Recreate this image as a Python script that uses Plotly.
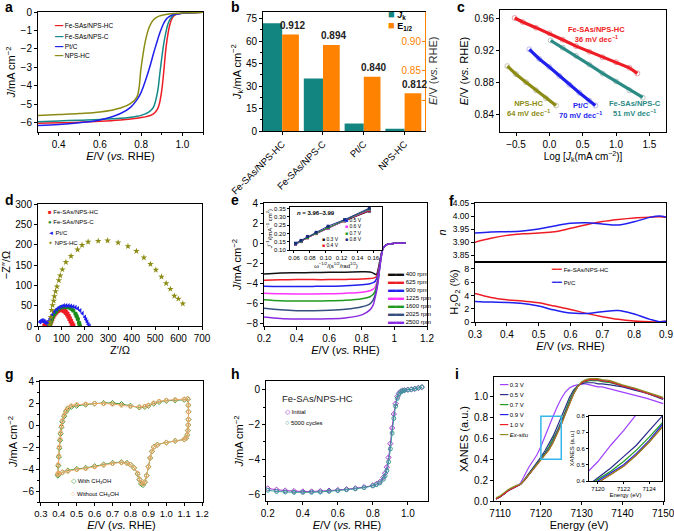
import plotly.graph_objects as go

W, H = 674, 531
FONT = "Liberation Sans, Arial, Helvetica, sans-serif"

def dx(a, b):
    return [a / W, b / W]

def dy(t, b):
    return [1 - b / H, 1 - t / H]

# ---------------- data ----------------
# a: LSV curves
a_E = [0.30, 0.40, 0.50, 0.60, 0.70, 0.75, 0.78, 0.80, 0.82, 0.84, 0.86, 0.88, 0.89, 0.90, 0.91, 0.92, 0.93, 0.94, 0.95, 0.96, 0.98, 1.00, 1.05, 1.10]
a_names = ["Fe-SAs/NPS-HC", "Fe-SAs/NPS-C", "Pt/C", "NPS-HC"]
a_colors = ["#ee1c24", "#13898a", "#1f1fee", "#8c8c14"]
a_J = [
    [-6.02, -6.0, -5.97, -5.92, -5.85, -5.8, -5.76, -5.72, -5.68, -5.62, -5.52, -5.25, -4.9, -4.25, -3.2, -2.0, -1.2, -0.65, -0.35, -0.2, -0.1, -0.07, -0.04, -0.02],
    [-5.95, -5.9, -5.86, -5.82, -5.76, -5.7, -5.65, -5.6, -5.52, -5.4, -5.15, -4.3, -3.4, -2.5, -1.7, -1.1, -0.65, -0.4, -0.25, -0.15, -0.09, -0.07, -0.04, -0.02],
    [-6.15, -6.1, -6.0, -5.85, -5.5, -5.15, -4.75, -4.35, -3.75, -3.05, -2.25, -1.5, -1.15, -0.85, -0.6, -0.42, -0.3, -0.22, -0.16, -0.13, -0.1, -0.07, -0.04, -0.02],
    [-5.6, -5.55, -5.5, -5.42, -5.2, -4.95, -4.6, -3.0, -1.6, -0.8, -0.42, -0.26, -0.21, -0.18, -0.15, -0.13, -0.12, -0.1, -0.09, -0.08, -0.07, -0.06, -0.04, -0.02],
]

# b: kinetic current & half-wave potential
b_cats = ["Fe-SAs/NPS-HC", "Fe-SAs/NPS-C", "Pt/C", "NPS-HC"]
b_Jk = [72, 35, 5, 1.5]
b_E12 = [0.912, 0.894, 0.840, 0.812]

# c: Tafel
c_names = ["Fe-SAs/NPS-HC", "Fe-SAs/NPS-C", "Pt/C", "NPS-HC"]
c_slopes = ["36 mV dec<sup>−1</sup>", "51 mV dec<sup>−1</sup>", "70 mV dec<sup>−1</sup>", "64 mV dec<sup>−1</sup>"]
c_colors = ["#ee1c24", "#2a8a84", "#1f1fee", "#8c8c14"]
c_marker_colors = ["#e8a0a8", "#b8c4c4", "#b8b8e8", "#c4c4b0"]
c_x = [
    [-0.52, -0.4, -0.2, 0.0, 0.2, 0.4, 0.6, 0.8, 1.0, 1.2, 1.32],
    [0.02, 0.2, 0.4, 0.6, 0.8, 1.0, 1.2, 1.40],
    [-0.30, -0.15, 0.0, 0.15, 0.3, 0.45, 0.6, 0.69],
    [-0.63, -0.5, -0.35, -0.2, -0.05, 0.1],
]
c_y = [
    [0.960, 0.955, 0.948, 0.941, 0.933, 0.925, 0.918, 0.911, 0.905, 0.898, 0.891],
    [0.932, 0.923, 0.913, 0.902, 0.891, 0.881, 0.870, 0.861],
    [0.921, 0.909, 0.899, 0.888, 0.877, 0.867, 0.857, 0.851],
    [0.900, 0.890, 0.880, 0.870, 0.860, 0.851],
]
c_lab_x = [0.71, 1.285, 0.46, -0.32]
c_lab_y = [0.940, 0.847, 0.8445, 0.847]

# d: Nyquist
d_names = ["Fe-SAs/NPS-HC", "Fe-SAs/NPS-C", "Pt/C", "NPS-HC"]
d_colors = ["#ee1c24", "#1a8c1a", "#1f1fee", "#8c8c14"]
d_symbols = ["square", "circle", "triangle-left", "star"]
d_keys = ["■", "●", "◄", "✦"]
d_x = [
    [28, 32, 36, 40, 44, 48, 52, 56, 60, 65, 70, 75, 80, 85, 90, 95, 100, 105, 110, 115, 120, 125, 130, 135, 140, 145, 150],
    [48, 52, 56, 60, 65, 70, 75, 80, 90, 100, 110, 120, 130, 140, 150, 160, 165, 170, 175, 178],
    [8, 12, 16, 20, 24, 28, 32, 36, 40, 44, 48, 52, 56, 60, 70, 80, 90, 100, 110, 120, 130, 140, 150, 160, 170, 180, 190, 200, 205, 210, 215, 220],
    [50, 52, 55, 58, 62, 67, 70, 75, 81, 89, 95, 104, 119, 141, 169, 188, 214, 257, 297, 342, 384, 420, 452, 480, 503, 527, 547, 565, 582, 599, 618],
]
d_y = [
    [0, 4, 7, 7, 5, 4, 7, 12, 18, 24, 29, 33, 36, 38, 39.5, 40, 40, 39.5, 38, 36, 33, 29, 24, 18, 12, 6, 1],
    [0, 5, 12, 18, 25, 30, 34, 38, 43, 46, 47, 47, 46, 43, 38, 30, 24, 17, 8, 2],
    [10, 12, 13, 13, 12, 11, 9, 7, 6, 8, 13, 18, 23, 27, 35, 41, 45, 48, 50, 50, 50, 49, 48, 46, 43, 38, 31, 22, 16, 10, 4, 0],
    [2, 10, 22, 39, 51, 62, 73, 85, 97, 112, 124, 139, 157, 172, 188, 199, 207, 209, 210, 205, 196, 184, 168, 152, 138, 121, 105, 91, 74, 67, 55],
]

# e: RDE curves
e_E = [0.2, 0.3, 0.4, 0.5, 0.6, 0.7, 0.8, 0.85, 0.87, 0.88, 0.89, 0.9, 0.91, 0.92, 0.93, 0.95, 0.97, 1.0, 1.03, 1.07]
e_names = ["400 rpm", "625 rpm", "900 rpm", "1225 rpm", "1600 rpm", "2025 rpm", "2500 rpm"]
e_colors = ["#111111", "#ee1c24", "#1f1fee", "#ff33ff", "#1e9a1e", "#34507f", "#8a2be2"]
e_J = [
    [-3.05, -2.95, -2.92, -2.9, -2.88, -2.86, -2.83, -2.85, -2.95, -3.05, -3.1, -2.6, -1.8, -1.0, -0.5, -0.15, -0.05, 0.0, 0.02, 0.05],
    [-3.65, -3.62, -3.6, -3.6, -3.6, -3.58, -3.55, -3.5, -3.45, -3.4, -3.3, -2.8, -2.0, -1.1, -0.5, -0.15, -0.05, 0.0, 0.02, 0.05],
    [-4.25, -4.28, -4.28, -4.27, -4.25, -4.2, -4.1, -4.0, -3.9, -3.8, -3.55, -3.0, -2.1, -1.15, -0.5, -0.15, -0.05, 0.0, 0.02, 0.05],
    [-4.95, -5.0, -5.02, -5.02, -5.0, -4.95, -4.85, -4.7, -4.55, -4.4, -4.0, -3.3, -2.2, -1.2, -0.5, -0.15, -0.05, 0.0, 0.02, 0.05],
    [-5.6, -5.7, -5.72, -5.72, -5.7, -5.65, -5.5, -5.3, -5.05, -4.8, -4.3, -3.5, -2.3, -1.2, -0.5, -0.15, -0.05, 0.0, 0.02, 0.05],
    [-6.45, -6.6, -6.68, -6.68, -6.65, -6.55, -6.3, -6.0, -5.6, -5.2, -4.6, -3.7, -2.4, -1.25, -0.5, -0.15, -0.05, 0.0, 0.02, 0.05],
    [-7.3, -7.45, -7.5, -7.5, -7.48, -7.4, -7.1, -6.6, -6.1, -5.5, -4.8, -3.8, -2.5, -1.3, -0.55, -0.15, -0.05, 0.0, 0.02, 0.05],
]
# e inset: Koutecky-Levich
kl_w = [0.062, 0.069, 0.077, 0.088, 0.103, 0.124, 0.155]
kl_names = ["0.3 V", "0.4 V", "0.5 V", "0.6 V", "0.7 V", "0.8 V"]
kl_colors = ["#111111", "#ee1c24", "#1f1fee", "#ff33ff", "#1e9a1e", "#1a2a80"]
kl_y = [
    [0.137, 0.152, 0.175, 0.200, 0.235, 0.276, 0.335],
    [0.136, 0.151, 0.174, 0.199, 0.233, 0.277, 0.338],
    [0.136, 0.151, 0.175, 0.200, 0.234, 0.278, 0.343],
    [0.137, 0.152, 0.175, 0.200, 0.235, 0.279, 0.345],
    [0.138, 0.153, 0.176, 0.201, 0.236, 0.280, 0.347],
    [0.141, 0.158, 0.182, 0.207, 0.244, 0.284, 0.353],
]

# f: electron transfer number & H2O2 yield
f_E = [0.30, 0.35, 0.40, 0.45, 0.50, 0.55, 0.60, 0.65, 0.70, 0.75, 0.80, 0.85, 0.88, 0.90]
f_names = ["Fe-SAs/NPS-HC", "Pt/C"]
f_colors = ["#ee1c24", "#1f1fee"]
f_n = [
    [3.900, 3.915, 3.926, 3.932, 3.935, 3.940, 3.953, 3.967, 3.979, 3.987, 3.993, 3.996, 3.997, 3.995],
    [3.935, 3.939, 3.940, 3.943, 3.950, 3.962, 3.972, 3.974, 3.970, 3.966, 3.978, 3.995, 4.000, 3.996],
]
f_h2o2 = [
    [4.3, 3.7, 3.35, 3.15, 2.9, 2.4, 1.9, 1.3, 0.8, 0.4, 0.15, 0.02, 0.05, 0.1],
    [3.1, 3.0, 2.95, 2.8, 2.4, 1.8, 1.35, 1.3, 1.55, 1.72, 1.2, 0.4, 0.05, 0.1],
]

# g: CV with / without methanol
g_names = ["With CH<sub>3</sub>OH", "Without CH<sub>3</sub>OH"]
g_colors = ["#3a9a3a", "#f0a868"]
g_E = [0.395, 0.397, 0.400, 0.403, 0.407, 0.410, 0.415, 0.420, 0.430, 0.440, 0.450, 0.470, 0.500, 0.550, 0.600, 0.650, 0.700, 0.750, 0.800, 0.850, 0.880, 0.900, 0.930, 0.960, 1.000, 1.050, 1.100, 1.120,
       1.123, 1.124, 1.124, 1.123, 1.121, 1.117, 1.110,
       1.100, 1.050, 1.000, 0.950, 0.930, 0.920, 0.910, 0.900, 0.890, 0.880, 0.870, 0.860, 0.850, 0.840, 0.820, 0.800, 0.780, 0.750, 0.700, 0.650, 0.600, 0.550, 0.500, 0.450, 0.420, 0.400, 0.395]
g_J = [
    [-4.5, -3.7, -2.9, -2.1, -1.4, -0.8, -0.2, 0.3, 0.8, 1.2, 1.45, 1.65, 1.75, 1.85, 1.95, 2.0, 2.0, 1.9, 1.75, 1.6, 1.65, 1.75, 1.95, 2.1, 2.2, 2.25, 2.3, 2.35,
     1.8, 1.2, 0.5, 0.0, -0.5, -0.9, -1.2,
     -1.3, -1.45, -1.6, -1.8, -2.0, -2.4, -3.0, -3.8, -4.6, -5.2, -5.45, -5.35, -4.95, -4.45, -3.9, -3.6, -3.45, -3.38, -3.45, -3.6, -3.75, -3.9, -4.0, -4.15, -4.3, -4.45, -4.6],
    [-4.4, -3.6, -2.8, -2.0, -1.3, -0.7, -0.1, 0.4, 0.9, 1.3, 1.55, 1.75, 1.85, 1.9, 1.95, 1.95, 1.9, 1.8, 1.7, 1.65, 1.7, 1.8, 2.0, 2.15, 2.25, 2.3, 2.35, 2.4,
     1.8, 1.2, 0.5, 0.0, -0.5, -0.9, -1.2,
     -1.3, -1.45, -1.6, -1.8, -2.0, -2.4, -3.0, -3.8, -4.6, -5.15, -5.35, -5.25, -4.9, -4.4, -3.9, -3.6, -3.48, -3.42, -3.5, -3.65, -3.8, -3.95, -4.05, -4.2, -4.3, -4.4, -4.5],
]

# h: durability
h_E = [0.2, 0.25, 0.3, 0.35, 0.4, 0.45, 0.5, 0.55, 0.6, 0.65, 0.7, 0.75, 0.8, 0.82, 0.84, 0.86, 0.87, 0.88, 0.89, 0.9, 0.91, 0.92, 0.93, 0.94, 0.95, 0.96, 0.97, 0.98, 1.0, 1.02, 1.04, 1.06, 1.08]
h_names = ["Initial", "5000 cycles"]
h_colors = ["#9933cc", "#3a9a96"]
h_J = [
    [-5.68, -5.75, -5.8, -5.83, -5.85, -5.85, -5.83, -5.8, -5.77, -5.72, -5.67, -5.6, -5.5, -5.42, -5.3, -5.05, -4.8, -4.45, -3.9, -3.1, -2.2, -1.4, -0.8, -0.4, -0.2, -0.1, -0.05, -0.03, 0.0, 0.02, 0.05, 0.1, 0.15],
    [-5.78, -5.85, -5.88, -5.9, -5.9, -5.9, -5.88, -5.84, -5.8, -5.75, -5.7, -5.63, -5.53, -5.46, -5.36, -5.15, -4.95, -4.65, -4.15, -3.4, -2.5, -1.65, -0.95, -0.5, -0.25, -0.12, -0.06, -0.04, -0.01, 0.02, 0.05, 0.1, 0.15],
]

# i: in situ XANES
i_En = [7109, 7110, 7111, 7112, 7113, 7114, 7115, 7116, 7117, 7118, 7119, 7120, 7121, 7122, 7123, 7124, 7125, 7126, 7127, 7128, 7129, 7130, 7131, 7132, 7133, 7134, 7135, 7137, 7140, 7143, 7146, 7150]
i_names = ["0.3 V", "0.5 V", "0.7 V", "0.9 V", "1.0 V", "<i>Ex-situ</i>"]
i_colors = ["#a040ff", "#2a2a8a", "#1e9a1e", "#1f1fee", "#ee1c24", "#8c8c20"]
i_ticks = [7110, 7120, 7130, 7140, 7150]
i_mu = [
    [0.02, 0.04, 0.07, 0.10, 0.12, 0.14, 0.17, 0.25, 0.32, 0.38, 0.44, 0.52, 0.62, 0.71, 0.81, 0.90, 0.98, 1.04, 1.08, 1.10, 1.11, 1.12, 1.12, 1.11, 1.10, 1.09, 1.09, 1.07, 1.04, 1.01, 0.98, 0.93],
    [0.02, 0.04, 0.07, 0.10, 0.12, 0.14, 0.16, 0.21, 0.26, 0.31, 0.36, 0.42, 0.48, 0.55, 0.62, 0.71, 0.80, 0.90, 0.99, 1.06, 1.10, 1.12, 1.13, 1.13, 1.13, 1.12, 1.12, 1.11, 1.09, 1.06, 1.03, 0.97],
    [0.02, 0.04, 0.07, 0.10, 0.12, 0.14, 0.16, 0.20, 0.25, 0.30, 0.36, 0.41, 0.46, 0.52, 0.59, 0.67, 0.76, 0.86, 0.96, 1.04, 1.10, 1.13, 1.14, 1.15, 1.15, 1.15, 1.14, 1.13, 1.10, 1.07, 1.03, 0.98],
    [0.02, 0.04, 0.07, 0.10, 0.12, 0.14, 0.16, 0.20, 0.25, 0.30, 0.35, 0.395, 0.45, 0.50, 0.57, 0.65, 0.745, 0.84, 0.94, 1.03, 1.09, 1.13, 1.15, 1.16, 1.16, 1.16, 1.15, 1.14, 1.10, 1.07, 1.03, 0.98],
    [0.02, 0.04, 0.07, 0.10, 0.12, 0.14, 0.16, 0.20, 0.25, 0.30, 0.35, 0.39, 0.44, 0.49, 0.56, 0.64, 0.73, 0.83, 0.93, 1.02, 1.09, 1.13, 1.15, 1.16, 1.16, 1.16, 1.15, 1.14, 1.10, 1.07, 1.03, 0.98],
    [0.03, 0.05, 0.08, 0.11, 0.13, 0.15, 0.16, 0.20, 0.25, 0.30, 0.35, 0.39, 0.44, 0.49, 0.56, 0.64, 0.73, 0.83, 0.93, 1.02, 1.09, 1.14, 1.16, 1.17, 1.17, 1.17, 1.16, 1.15, 1.11, 1.08, 1.04, 0.99],
]

# ---------------- figure ----------------
fig = go.Figure()
ann = []

def base_axis(domain, rng, anchor, fs=10, **kw):
    d = dict(domain=domain, range=rng, anchor=anchor, showline=True, linecolor="black", linewidth=1,
             mirror=True, ticks="outside", ticklen=3, tickcolor="black", tickwidth=1, tickangle=0,
             automargin=False, ticklabeloverflow="allow",
             tickfont=dict(size=fs, color="black", family=FONT), showgrid=False, zeroline=False)
    d.update(kw)
    return d

def ttl(text, size=11, standoff=2, color="black"):
    return dict(text=text, font=dict(size=size, color=color, family=FONT), standoff=standoff)

def legend_block(x0, y0, dyy, keys, names, colors, keysize=7, fs=6.5, gap=" "):
    for k, (key, n, c) in enumerate(zip(keys, names, colors)):
        ann.append(dict(xref="paper", yref="paper", x=x0 / W, y=1 - (y0 + k * dyy) / H,
                        xanchor="left", yanchor="middle", showarrow=False,
                        text=f'<span style="color:{c};font-size:{keysize}px">{key}</span>{gap}{n}',
                        font=dict(size=fs, color="black", family=FONT)))

EV = "<i>E</i>/V (<i>vs.</i> RHE)"
JT = "<i>J</i>/mA cm<sup>−2</sup>"

lay = {}

# ---- a ----
for n, c, J in zip(a_names, a_colors, a_J):
    fig.add_trace(go.Scatter(x=a_E, y=J, mode="lines", line=dict(color=c, width=1.5, shape="spline"),
                             xaxis="x", yaxis="y", showlegend=False, name=n))
lay["xaxis"] = base_axis(dx(38, 203), [0.3, 1.1], "y", tickvals=[0.4, 0.6, 0.8, 1.0], ticktext=["0.4", "0.6", "0.8", "1.0"],
                         minor=dict(ticks="outside", ticklen=2, dtick=0.1, tickcolor="black"),
                         title=ttl(EV, 11, 1))
lay["yaxis"] = base_axis(dy(12, 132), [-6.5, 0], "x", dtick=1, title=ttl(JT, 11, 2))
legend_block(52, 26, 10, ["━━"] * 4, a_names, a_colors, keysize=7)

# ---- b ----
xi = list(range(len(b_cats)))
fig.add_trace(go.Bar(x=[v - 0.235 for v in xi], y=b_Jk, width=0.47, marker=dict(color="#138580", line=dict(width=0)),
                     xaxis="x2", yaxis="y2", showlegend=False, name="Jk"))
fig.add_trace(go.Bar(x=[v + 0.205 for v in xi], y=b_E12, width=0.41, marker=dict(color="#ff8200", line=dict(width=0)),
                     xaxis="x2", yaxis="y3", showlegend=False, name="E1/2"))
for v, e in zip(xi, b_E12):
    ann.append(dict(xref="x2", yref="y3", x=v + 0.25, y=e, yshift=9, showarrow=False, text=f"<b>{e:.3f}</b>",
                    font=dict(size=10, color="#222", family=FONT)))
lay["xaxis2"] = base_axis(dx(263, 425), [-0.47, 3.5], "y2", tickvals=xi, ticktext=b_cats, tickangle=-45, fs=9.5)
lay["yaxis2"] = base_axis(dy(12, 131), [0, 79.5], "x2", mirror=False, tickvals=[0, 15, 30, 45, 60, 75],
                          minor=dict(ticks="outside", ticklen=2, dtick=7.5, tickcolor="black"),
                          title=ttl("<i>J</i><sub>k</sub>/mA cm<sup>−2</sup>", 11, 2))
lay["yaxis3"] = base_axis(dy(12, 131), [0.748, 0.95], "x2", overlaying="y2", side="right", mirror=False,
                          linecolor="#ff8200", ticks="inside", tickcolor="#ff8200", ticklabelposition="inside",
                          tickvals=[0.80, 0.85, 0.90], ticktext=["", "0.85", "0.90"],
                          tickfont=dict(size=10, color="#ff8200", family=FONT))
ann.append(dict(xref="paper", yref="paper", x=433 / W, y=1 - 71 / H, xanchor="center", yanchor="middle", showarrow=False,
                textangle=-90, text=EV, font=dict(size=11, color="#333", family=FONT)))
ann.append(dict(xref="paper", yref="paper", x=386 / W, y=1 - 15 / H, xanchor="left", yanchor="middle", showarrow=False,
                text='<span style="color:#138580;font-size:11px">■</span> <b><i>J</i><sub>k</sub></b>',
                font=dict(size=9, color="black", family=FONT)))
ann.append(dict(xref="paper", yref="paper", x=386 / W, y=1 - 25 / H, xanchor="left", yanchor="middle", showarrow=False,
                text='<span style="color:#ff8200;font-size:11px">■</span> <b>E<sub>1/2</sub></b>',
                font=dict(size=9, color="black", family=FONT)))

# ---- c ----
for k in range(4):
    fig.add_trace(go.Scatter(x=c_x[k], y=c_y[k], mode="markers",
                             marker=dict(symbol="circle-open", size=5, color=c_marker_colors[k], line=dict(width=1)),
                             xaxis="x3", yaxis="y4", showlegend=False))
    fig.add_trace(go.Scatter(x=c_x[k], y=c_y[k], mode="lines", line=dict(color=c_colors[k], width=3.2),
                             xaxis="x3", yaxis="y4", showlegend=False, name=c_names[k]))
    ann.append(dict(xref="x3", yref="y4", x=c_lab_x[k], y=c_lab_y[k], showarrow=False,
                    text=f"<b>{c_names[k]}<br>{c_slopes[k]}</b>", font=dict(size=7.5, color=c_colors[k], family=FONT)))
lay["xaxis3"] = base_axis(dx(500, 666), [-0.74, 1.75], "y4", tickvals=[-0.5, 0.0, 0.5, 1.0, 1.5],
                          ticktext=["−0.5", "0.0", "0.5", "1.0", "1.5"],
                          title=ttl("Log [<i>J</i><sub>k</sub>(mA cm<sup>−2</sup>)]", 10, 2))
lay["yaxis4"] = base_axis(dy(10, 132), [0.818, 0.970], "x3", tickvals=[0.84, 0.88, 0.92, 0.96],
                          ticktext=["0.84", "0.88", "0.92", "0.96"], title=ttl(EV, 11, 3))

# ---- d ----
for k in range(4):
    fig.add_trace(go.Scatter(x=d_x[k], y=d_y[k], mode="markers",
                             marker=dict(symbol=d_symbols[k], size=4.5 if k < 3 else 5, color=d_colors[k], line=dict(width=0)),
                             xaxis="x4", yaxis="y5", showlegend=False, name=d_names[k]))
lay["xaxis4"] = base_axis(dx(38, 202), [0, 700], "y5", dtick=100, title=ttl("Z′/Ω", 11, 1))
lay["yaxis5"] = base_axis(dy(204, 326), [0, 300], "x4", dtick=50, title=ttl("−Z″/Ω", 11, 2))
legend_block(46, 212, 10.3, d_keys, d_names, d_colors, keysize=6, fs=6)

# ---- e ----
for n, c, J in zip(e_names, e_colors, e_J):
    fig.add_trace(go.Scatter(x=e_E, y=J, mode="lines", line=dict(color=c, width=1.5, shape="spline"),
                             xaxis="x5", yaxis="y6", showlegend=False, name=n))
lay["xaxis5"] = base_axis(dx(264, 427), [0.2, 1.2], "y6", dtick=0.2, tick0=0.2, title=ttl(EV, 11, 1))
lay["yaxis6"] = base_axis(dy(203, 326), [-8.2, 4], "x5", dtick=2, tick0=0,
                          minor=dict(ticks="outside", ticklen=2, dtick=1, tickcolor="black"),
                          title=ttl(JT, 11, 2))
legend_block(386, 273, 8.0, ["▬▬"] * 7, e_names, e_colors, keysize=8, fs=6)
# inset
for n, c, yv in zip(kl_names, kl_colors, kl_y):
    fig.add_trace(go.Scatter(x=kl_w, y=yv, mode="lines+markers", line=dict(color=c, width=1),
                             marker=dict(symbol="square", size=3, color=c),
                             xaxis="x6", yaxis="y7", showlegend=False, name=n))
lay["xaxis6"] = base_axis(dx(290, 382), [0.055, 0.171], "y7", fs=6, ticklen=2,
                          tickvals=[0.06, 0.08, 0.10, 0.12, 0.14, 0.16],
                          ticktext=["0.06", "0.08", "0.10", "0.12", "0.14", "0.16"],
                          title=ttl("ω<sup>−1/2</sup>/(s<sup>1/2</sup>/rad<sup>1/2</sup>)", 6, 1))
lay["yaxis7"] = base_axis(dy(207, 250), [0.10, 0.36], "x6", fs=6, ticklen=2,
                          tickvals=[0.10, 0.15, 0.20, 0.25, 0.30, 0.35],
                          ticktext=["0.10", "0.15", "0.20", "0.25", "0.30", "0.35"],
                          title=ttl("<i>J</i><sup>−1</sup>/(mA<sup>−1</sup> cm<sup>2</sup>)", 6, 1))
ann.append(dict(xref="paper", yref="paper", x=295 / W, y=1 - 213 / H, xanchor="left", yanchor="middle", showarrow=False,
                text="<b><i>n</i> = 3.96–3.99</b>", font=dict(size=6, color="black", family=FONT)))
legend_block(320, 239, 6.3, ["■"] * 2, kl_names[:2], kl_colors[:2], keysize=5, fs=5)
legend_block(343, 220, 6.3, ["■"] * 4, kl_names[2:], kl_colors[2:], keysize=5, fs=5)

# ---- f ----
for n, c, nv, hv in zip(f_names, f_colors, f_n, f_h2o2):
    fig.add_trace(go.Scatter(x=f_E, y=nv, mode="lines", line=dict(color=c, width=1.5, shape="spline"),
                             xaxis="x8", yaxis="y8", showlegend=False, name=n))
    fig.add_trace(go.Scatter(x=f_E, y=hv, mode="lines", line=dict(color=c, width=1.5, shape="spline"),
                             xaxis="x7", yaxis="y9", showlegend=False, name=n))
lay["xaxis7"] = base_axis(dx(475, 666), [0.3, 0.9], "y9", dtick=0.1, tick0=0.3, title=ttl(EV, 11, 1))
lay["xaxis8"] = base_axis(dx(475, 666), [0.3, 0.9], "y8", showticklabels=False, ticks="", matches="x7")
lay["yaxis8"] = base_axis(dy(203, 262), [3.824, 4.05], "x8", fs=8.5, tickvals=[3.85, 3.90, 3.95, 4.00, 4.05],
                          ticktext=["3.85", "3.90", "3.95", "4.00", "4.05"], title=ttl("<i>n</i>", 11, 3))
lay["yaxis9"] = base_axis(dy(262, 322), [0, 9.05], "x7", fs=9, tickvals=[0, 2, 4, 6, 8],
                          title=ttl("H<sub>2</sub>O<sub>2</sub> (%)", 11, 3))
legend_block(549, 269, 13, ["━━"] * 2, f_names, f_colors, keysize=8, fs=6)

# ---- g ----
g_sym = ["diamond-open", "circle-open"]
for n, c, J, s in zip(g_names, g_colors, g_J, g_sym):
    fig.add_trace(go.Scatter(x=g_E, y=J, mode="lines+markers", line=dict(color=c, width=1, shape="spline"),
                             marker=dict(symbol=s, size=4, color=c, line=dict(width=1)),
                             xaxis="x9", yaxis="y10", showlegend=False, name=n))
lay["xaxis9"] = base_axis(dx(40, 203), [0.295, 1.205], "y10", fs=9.5, tickvals=[0.3, 0.4, 0.5, 0.6, 0.7, 0.8, 0.9, 1.0, 1.1, 1.2],
                          ticktext=["0.3", "0.4", "0.5", "0.6", "0.7", "0.8", "0.9", "1.0", "1.1", "1.2"],
                          title=ttl(EV, 11, 0))
lay["yaxis10"] = base_axis(dy(381, 502), [-7, 4], "x9", dtick=2, tick0=0,
                           minor=dict(ticks="outside", ticklen=2, dtick=1, tickcolor="black"),
                           title=ttl(JT, 11, 2))
legend_block(69, 481, 12.5, ["◇", "○"], g_names, g_colors, keysize=7, fs=6)

# ---- h ----
h_sym = ["diamond-open", "circle-open"]
for n, c, J, s in zip(h_names, h_colors, h_J, h_sym):
    fig.add_trace(go.Scatter(x=h_E, y=J, mode="lines+markers", line=dict(color=c, width=1, shape="spline"),
                             marker=dict(symbol=s, size=4, color=c, line=dict(width=1)),
                             xaxis="x10", yaxis="y11", showlegend=False, name=n))
lay["xaxis10"] = base_axis(dx(266, 428), [0.19, 1.115], "y11", tickvals=[0.2, 0.4, 0.6, 0.8, 1.0],
                           ticktext=["0.2", "0.4", "0.6", "0.8", "1.0"], title=ttl(EV, 11, 0))
lay["yaxis11"] = base_axis(dy(381, 501), [-6.4, 0.5], "x10", tickvals=[-6, -4, -2, 0],
                           ticktext=["−6", "−4", "−2", "0"],
                           minor=dict(ticks="outside", ticklen=2, dtick=1, tickcolor="black"),
                           title=ttl(JT, 11, 2))
ann.append(dict(xref="paper", yref="paper", x=280 / W, y=1 - 398 / H, xanchor="left", yanchor="middle", showarrow=False,
                text="Fe-SAs/NPS-HC", font=dict(size=9.5, color="#222", family=FONT)))
legend_block(283, 411, 11, ["◇", "○"], h_names, h_colors, keysize=7, fs=6)

# ---- i ----
for n, c, mu in zip(i_names, i_colors, i_mu):
    fig.add_trace(go.Scatter(x=i_En, y=mu, mode="lines", line=dict(color=c, width=1.2),
                             xaxis="x11", yaxis="y12", showlegend=False, name=n))
    fig.add_trace(go.Scatter(x=i_En, y=mu, mode="lines", line=dict(color=c, width=1.2),
                             xaxis="x12", yaxis="y13", showlegend=False, name=n))
lay["xaxis11"] = base_axis(dx(494, 664), [7108.5, 7150.2], "y12", tickvals=i_ticks, ticktext=[str(t) for t in i_ticks],
                           title=ttl("Energy (eV)", 11, 1))
lay["yaxis12"] = base_axis(dy(377, 501), [0, 1.185], "x11", tickvals=[0, 0.2, 0.4, 0.6, 0.8, 1.0],
                           ticktext=["0.0", "0.2", "0.4", "0.6", "0.8", "1.0"], title=ttl("XANES (a.u.)", 11, 3))
lay["xaxis12"] = base_axis(dx(589, 662), [7119.3, 7125], "y13", fs=6, ticklen=2, tickvals=[7120, 7122, 7124],
                           title=ttl("Energy (eV)", 6, 1))
lay["yaxis13"] = base_axis(dy(416, 481), [0.4, 0.8], "x12", fs=6, ticklen=2, tickvals=[0.4, 0.5, 0.6, 0.7, 0.8],
                           ticktext=["0.4", "0.5", "0.6", "0.7", "0.8"], title=ttl("XANES (a.u.)", 6, 1))
legend_block(497, 384, 10, ["━━"] * 6, i_names, i_colors, keysize=7, fs=6)

shapes = [
    dict(type="rect", xref="x11", yref="y12", x0=7120, x1=7125, y0=0.4, y1=0.81,
         line=dict(color="#35b5ea", width=1.5), fillcolor="rgba(0,0,0,0)"),
]

# panel letters
for L, px, py in [("a", 3, 7), ("b", 229, 7), ("c", 455, 7), ("d", 3, 200), ("e", 229, 200), ("f", 447, 201),
                  ("g", 3, 374), ("h", 229, 374), ("i", 453, 374)]:
    ann.append(dict(xref="paper", yref="paper", x=px / W, y=1 - py / H, xanchor="left", yanchor="middle",
                    showarrow=False, text=f"<b>{L}</b>", font=dict(size=14, color="black", family=FONT)))

fig.update_layout(width=W, height=H, margin=dict(l=0, r=0, t=0, b=0, autoexpand=False), paper_bgcolor="white", plot_bgcolor="white",
                  font=dict(family=FONT, color="black"), showlegend=False, barmode="overlay", hovermode=False,
                  annotations=ann, shapes=shapes, **lay)

fig.write_html("out.html", config={"displayModeBar": False, "staticPlot": True},
               post_script="document.body.style.margin='0px';document.body.style.padding='0px';")
